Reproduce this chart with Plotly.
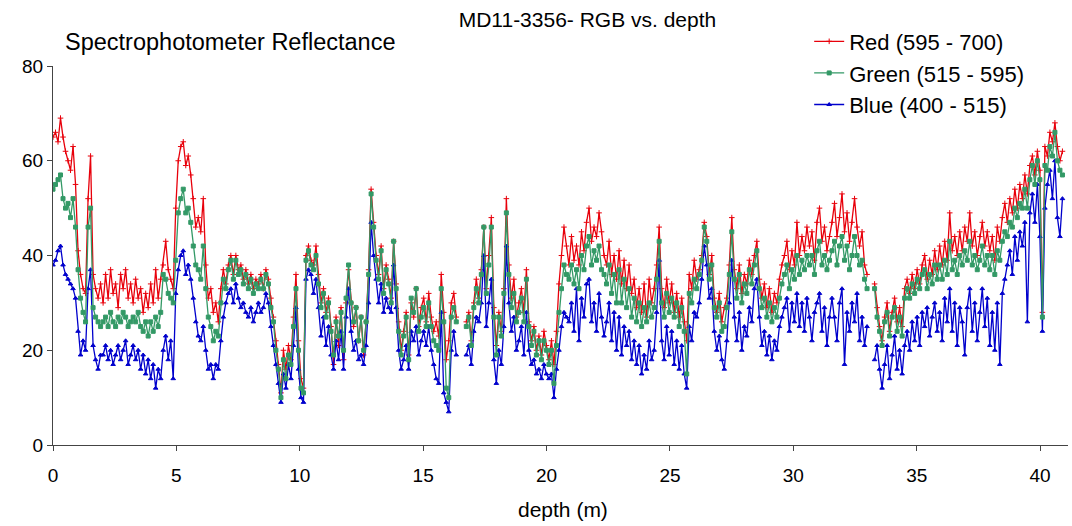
import numpy as np
import plotly.graph_objects as go

N = None
# sampling grid along the core (m); 404 samples from 0 to ~40.9 m
depth = np.round(np.arange(404) * 0.1015, 4)

red = [
    65,66,64,69,65,62,60,58,63,55,
    41,36,33,32,52,61,36,33,31,34,
    30,36,31,37,32,34,29,36,33,37,
    31,34,30,35,31,33,28,32,29,34,
    30,37,31,35,38,43,37,35,33,50,
    60,63,64,59,61,57,52,46,48,45,
    52,38,31,33,28,30,26,33,37,34,
    38,40,36,40,37,38,35,37,34,36,
    33,35,34,36,33,37,35,31,27,22,
    17,11,20,16,21,18,27,36,22,14,
    12,40,42,39,38,42,36,30,33,28,
    31,25,17,27,21,29,18,30,37,30,
    25,29,22,27,19,26,37,54,47,40,
    36,42,33,38,35,31,43,34,26,20,
    24,28,19,30,27,33,25,29,31,26,
    32,27,24,26,23,36,28,18,22,30,
    32,27,N,N,N,26,28,22,30,35,
    31,37,46,33,40,48,29,21,28,24,
    33,52,38,31,35,27,30,33,28,37,
    26,22,25,20,23,19,24,21,18,22,
    17,24,34,40,46,42,38,44,39,42,
    38,45,41,47,50,43,46,44,49,45,
    40,38,43,36,40,35,41,34,39,33,
    38,32,35,29,33,28,34,27,35,30,
    33,38,46,33,29,35,30,34,28,32,
    27,31,26,22,36,33,39,35,37,40,
    47,44,36,40,31,28,32,26,29,31,
    38,48,37,33,38,32,36,34,39,36,
    40,43,35,31,34,29,33,28,32,30,
    35,38,40,43,37,41,38,47,40,44,
    41,46,42,45,39,47,50,43,46,41,
    44,47,51,44,48,53,45,49,43,47,
    52,46,42,45,38,36,N,N,34,29,
    25,22,27,30,24,28,31,26,29,25,
    33,35,32,36,33,37,34,38,40,35,
    39,36,41,37,42,38,43,39,49,41,
    44,40,45,41,46,43,49,42,45,40,
    44,47,42,45,41,44,39,46,43,48,
    51,47,52,49,54,50,55,52,57,53,
    59,61,57,62,58,28,63,61,66,64,
    68,63,60,62,
]

green = [
    54,55,56,57,52,50,51,48,52,46,
    37,31,28,26,46,50,29,27,26,25,
    26,27,25,28,26,25,27,26,28,27,
    25,26,27,26,28,25,24,26,23,26,
    24,27,25,28,36,35,32,31,30,39,
    49,52,54,49,50,47,42,38,37,35,
    42,33,27,25,22,24,23,30,35,33,
    37,39,35,39,36,37,34,36,33,35,
    32,34,33,35,33,36,34,29,26,20,
    16,10,18,14,19,17,25,33,20,12,
    11,39,41,38,37,40,34,29,32,27,
    30,24,19,26,23,28,20,31,38,30,
    26,29,22,27,20,26,36,53,46,39,
    35,41,32,37,34,30,43,33,24,19,
    23,27,18,31,28,33,24,27,29,25,
    30,25,22,21,20,33,26,12,10,27,
    29,26,N,N,N,25,27,21,29,33,
    30,36,46,32,38,46,27,19,27,23,
    32,49,36,29,32,26,28,31,26,35,
    25,21,24,19,22,18,22,20,17,20,
    13,21,28,33,38,36,35,38,34,37,
    33,40,37,42,44,38,41,39,42,37,
    36,34,38,32,36,30,37,30,35,29,
    33,27,31,26,30,25,29,26,30,27,
    29,35,43,30,27,32,28,31,27,30,
    25,29,24,15,32,30,35,33,36,39,
    46,43,35,38,29,27,30,24,25,29,
    36,45,35,31,36,30,34,32,37,34,
    38,41,33,29,31,27,30,26,29,27,
    31,34,36,38,33,37,35,40,36,39,
    37,40,38,40,36,41,43,38,40,37,
    39,41,43,38,42,44,39,42,37,40,
    44,40,38,39,35,33,N,N,33,27,
    24,21,26,28,23,27,29,24,27,23,
    31,33,31,34,32,35,33,36,37,33,
    36,34,38,35,38,35,39,36,43,37,
    39,36,40,38,41,39,43,38,40,37,
    39,42,38,40,37,40,36,41,39,43,
    45,44,47,46,50,48,51,50,54,50,
    56,59,55,60,56,27,59,58,63,61,
    66,60,58,57,
]

blue = [
    38,39,41,42,38,36,35,34,33,31,
    24,19,22,20,33,37,21,18,16,19,
    19,21,18,20,17,19,21,18,20,22,
    17,19,21,18,20,16,19,15,18,14,
    17,12,16,14,20,23,18,22,14,32,
    37,40,41,36,38,35,31,26,23,22,
    25,20,16,17,14,17,16,22,27,30,
    32,33,30,34,31,29,30,28,27,29,
    26,28,30,28,29,32,30,25,21,17,
    13,9,15,12,17,14,21,29,16,10,
    9,35,37,36,32,35,29,23,27,21,
    25,19,16,22,18,24,16,27,33,24,
    20,22,18,19,17,21,30,47,40,35,
    30,34,28,31,29,28,38,29,20,16,
    18,21,16,24,22,25,19,22,24,21,
    25,20,17,14,13,28,11,9,7,20,
    24,19,N,N,N,19,21,17,24,27,
    26,30,40,25,30,35,18,13,20,17,
    25,42,30,24,27,20,22,25,19,28,
    20,17,18,15,16,14,17,15,14,15,
    10,16,20,25,28,27,26,30,24,33,
    22,31,27,34,35,26,30,24,32,27,
    23,26,30,22,28,20,27,19,25,21,
    24,18,22,17,21,15,19,16,22,18,
    20,28,39,22,18,25,19,24,17,22,
    16,21,15,12,25,22,28,27,30,35,
    42,38,31,33,24,20,23,18,16,22,
    30,39,27,22,28,20,25,23,29,26,
    33,35,27,21,24,19,23,18,22,20,
    25,27,29,31,24,30,26,32,25,30,
    24,31,27,22,28,30,32,24,29,21,
    27,31,27,22,30,33,17,28,24,30,
    26,32,22,27,21,25,N,N,18,21,
    16,12,17,21,14,19,23,16,20,15,
    21,24,20,26,22,27,21,28,25,29,
    23,27,30,24,28,22,31,26,33,24,
    30,21,29,26,19,29,33,24,30,22,
    28,33,25,31,21,28,20,30,17,32,
    35,38,41,36,44,39,45,42,47,26,
    49,53,47,55,44,24,50,55,58,52,
    60,48,44,52,
]

x_ticks = [0, 5, 10, 15, 20, 25, 30, 35, 40]
y_ticks = [0, 20, 40, 60, 80]

FONT = "Arial, Liberation Sans, sans-serif"

fig = go.Figure()
series = [
    ("Red (595 - 700)", red, "#E8000B", "cross-thin-open", 4, 1),
    ("Blue (400 - 515)", blue, "#0000CC", "triangle-up", 4, 3),
    ("Green (515 - 595)", green, "#339966", "square", 4, 2),
]
for name, vals, col, sym, sz, rank in series:
    fig.add_trace(go.Scatter(
        x=depth, y=vals, name=name, mode="lines+markers",
        line=dict(color=col, width=1.3),
        marker=dict(symbol=sym, size=sz, color=col, line=dict(color=col, width=1)),
        connectgaps=False, legendrank=rank, legendgroup=name,
    ))

fig.update_layout(
    width=1072, height=526,
    margin=dict(l=53, r=4, t=66, b=81),
    paper_bgcolor="white", plot_bgcolor="white",
    font=dict(family=FONT, size=18, color="black"),
    title=dict(text="MD11-3356- RGB vs. depth", x=0.548, xanchor="center",
               y=0.962, yanchor="middle", font=dict(size=21)),
    showlegend=True,
    legend=dict(x=0.745, xanchor="left", y=1.12, yanchor="top",
                bgcolor="rgba(0,0,0,0)", font=dict(size=22),
                tracegroupgap=0, itemwidth=30),
    xaxis=dict(range=[0, 41.13], tickvals=x_ticks, ticks="outside", ticklen=5,
               showline=True, linecolor="#444", linewidth=1, showgrid=False,
               zeroline=False, tickcolor="#444", tickfont=dict(size=19),
               ticklabelstandoff=8),
    yaxis=dict(range=[0, 80], tickvals=y_ticks, ticks="outside", ticklen=5,
               showline=True, linecolor="#444", linewidth=1, showgrid=False,
               zeroline=False, tickcolor="#444", tickfont=dict(size=19)),
    annotations=[
        dict(text="Spectrophotometer Reflectance", xref="paper", yref="paper",
             x=0.01, y=1.063, xanchor="left", yanchor="middle",
             showarrow=False, font=dict(size=23.5)),
        dict(text="depth (m)", xref="paper", yref="paper",
             x=0.502, y=-0.171, xanchor="center", yanchor="middle",
             showarrow=False, font=dict(size=21)),
    ],
)

fig.write_html("out.html")
